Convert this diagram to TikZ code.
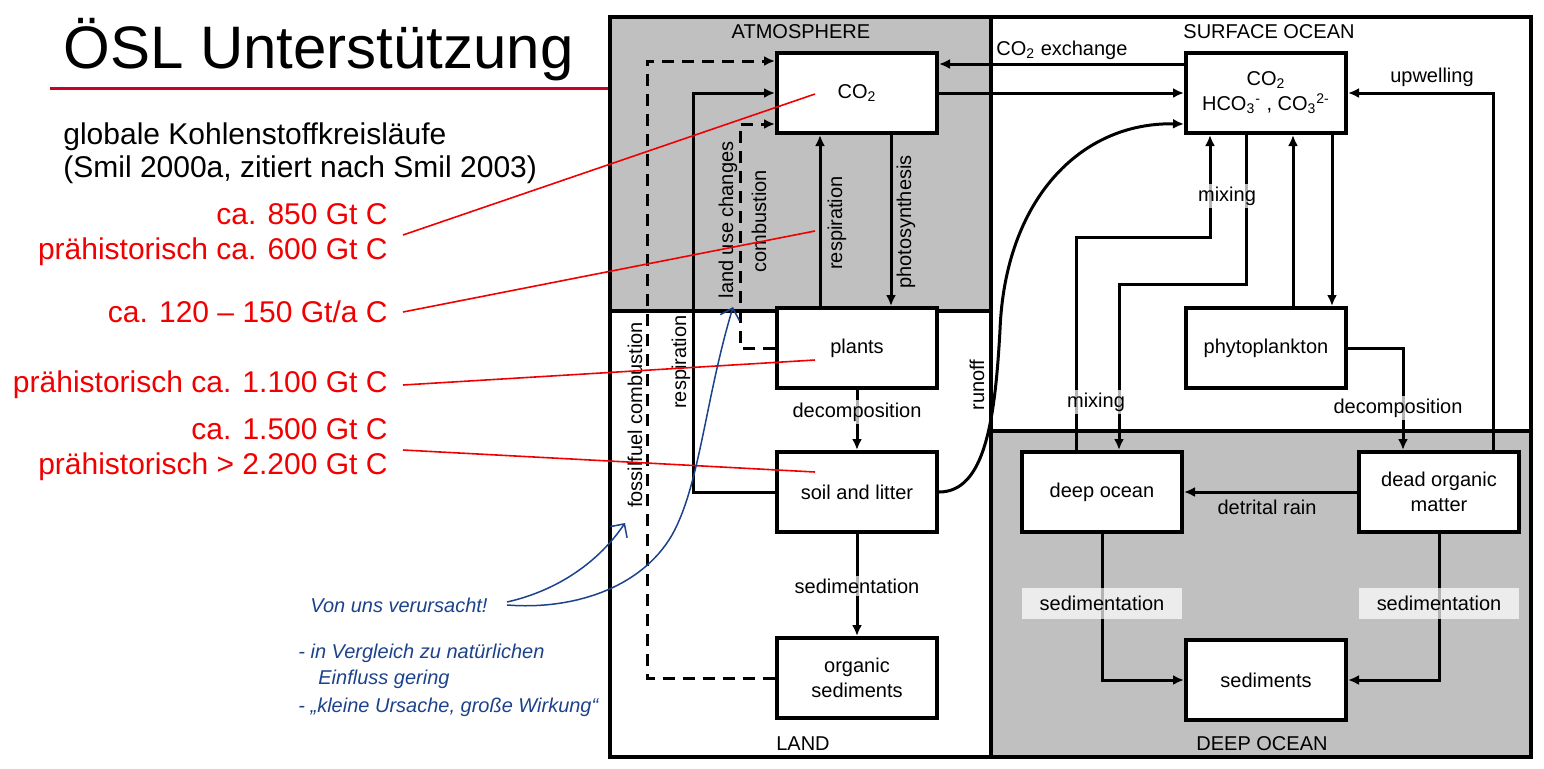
\documentclass[tikz,border=0pt]{standalone}
\usepackage{fontspec}
\setmainfont{Liberation Sans}
\usetikzlibrary{arrows.meta,calc}

\definecolor{atmgray}{RGB}{192,192,192}
\definecolor{notered}{RGB}{240,0,0}
\definecolor{titlered}{RGB}{204,0,34}
\definecolor{inkblue}{RGB}{28,66,140}

\tikzset{
    box/.style={draw,line width=2pt,fill=white,minimum width=80pt,minimum height=40pt,
        align=center,inner sep=1pt,font=\fontsize{10}{12.5}\selectfont},
    flow/.style={line width=1.5pt,-{Latex[length=5.5pt,width=5pt]}},
    dflow/.style={flow,dash pattern=on 6pt off 4pt},
    frame/.style={line width=2pt},
    lbl/.style={inner sep=1.5pt,font=\fontsize{10}{12}\selectfont},
    fade/.style={lbl,fill=white,fill opacity=0.7,text opacity=1},
    sedlbl/.style={fade,minimum width=80pt,minimum height=15.5pt},
    titletext/.style={anchor=base west,inner sep=0pt,font=\fontsize{30}{36}\selectfont},
    titlerule/.style={titlered,line width=1.5pt},
    subtitle/.style={anchor=base west,inner sep=0pt,align=left,font=\fontsize{15}{16.5}\selectfont},
    note/.style={text=notered,anchor=east,align=right,inner sep=0pt,inner xsep=7.5pt,
        font=\fontsize{15}{17.5}\selectfont},
    pointer/.style={notered,line width=0.8pt},
    ink/.style={inkblue,line width=0.75pt},
    scribble/.style={text=inkblue,anchor=west,inner sep=0pt,font=\fontsize{10}{12}\selectfont\itshape}
}

\begin{document}
\begin{tikzpicture}[x=0.5pt,y=-0.5pt]
                \useasboundingbox (0,0) rectangle (1544,768);
                %% title
                \node[titletext] (title) at (63,68) {ÖSL Unterstützung};
                \draw[titlerule] (50,88) -- (610,88);
                \node[subtitle] (sub) at (63,177) {globale Kohlenstoffkreisläufe\\(Smil 2000a, zitiert nach Smil 2003)};
                %% reservoirs
                \fill[atmgray] (610,17) rectangle (991,311);
                \fill[atmgray] (991,431) rectangle (1531,757);
                \draw[frame] (610,17) rectangle (1531,757);
                \draw[frame] (991,17) -- (991,757);
                \draw[frame] (610,311) -- (991,311);
                \draw[frame] (991,431) -- (1531,431);
                \node[lbl] (atm) at (801,32) {ATMOSPHERE};
                \node[lbl] (surf) at (1269,32) {SURFACE OCEAN};
                \node[lbl] (land) at (803,744) {LAND};
                \node[lbl] (deepl) at (1262,744) {DEEP OCEAN};
                %% pools
                \node[box] (atmco2) at (857,93) {CO\textsubscript{2}};
                \node[box] (plants) at (857,348) {plants};
                \node[box] (soil) at (857,492) {soil and litter};
                \node[box] (orgsed) at (857,678) {organic\\sediments};
                \node[box] (surfco2) at (1266,93) {CO\textsubscript{2}\\HCO\textsubscript{3}\textsuperscript{-} , CO\textsubscript{3}\textsuperscript{2-}};
                \node[box] (phyto) at (1266,348) {phytoplankton};
                \node[box] (deep) at (1102,492) {deep ocean};
                \node[box] (dom) at (1439,492) {dead organic\\matter};
                \node[box] (sed) at (1266,680) {sediments};
                %% land and atmosphere fluxes
                \draw[flow] ($(plants.north)+(-37,0)$) -- ($(atmco2.south)+(-37,0)$);
                \draw[flow] ($(atmco2.south)+(34,0)$) -- ($(plants.north)+(34,0)$);
                \draw[dflow] (plants.west) -| ($(atmco2.south west)+(-35,-11)$) -- ($(atmco2.south west)+(0,-11)$);
                \draw[flow] (soil.west) -| ($(atmco2.west)+(-82,0)$) -- (atmco2.west);
                \draw[dflow] (orgsed.west) -| ($(atmco2.north west)+(-128,10)$) -- ($(atmco2.north west)+(0,10)$);
                \draw[flow] (plants) -- (soil);
                \draw[flow] (soil) -- (orgsed);
                \draw[flow] (soil.east) .. controls (985,492) and (995,420) .. (1000,330)
                    .. controls (1005,200) and (1080,122) .. ($(surfco2.south west)+(0,-11)$);
                \node[lbl,rotate=90] (resp1) at (837,223) {respiration};
                \node[lbl,rotate=90] (photo) at (906,222) {photosynthesis};
                \node[lbl,rotate=90] (luc) at (728,220) {land use changes};
                \node[lbl,rotate=90] (comb) at (759,221) {combustion};
                \node[lbl,rotate=90] (resp2) at (681,362) {respiration};
                \node[lbl,rotate=90] (fossil) at (635,415) {fossilfuel combustion};
                \node[lbl,rotate=90] (runoff) at (977,385) {runoff};
                \node[fade] (dec1) at (857,412) {decomposition};
                \node[fade] (sed1) at (857,586) {sedimentation};
                %% ocean fluxes
                \draw[flow] ($(surfco2.north west)+(0,13)$) -- ($(atmco2.north east)+(0,13)$);
                \draw[flow] (atmco2.east) -- (surfco2.west);
                \node[lbl,anchor=west] (exch) at (993,50) {CO\textsubscript{2} exchange};
                \draw[flow] ($(dom.north)+(54,0)$) |- (surfco2.east);
                \node[lbl] (upw) at (1432,77) {upwelling};
                \draw[flow] ($(deep.north)+(-26,0)$) -- ++(0,-213) -| ($(surfco2.south)+(-56,0)$);
                \draw[flow] ($(surfco2.south)+(-20,0)$) -- ++(0,149) -| ($(deep.north)+(17,0)$);
                \draw[flow] ($(phyto.north)+(27,0)$) -- ($(surfco2.south)+(27,0)$);
                \draw[flow] ($(surfco2.south)+(66,0)$) -- ($(phyto.north)+(66,0)$);
                \draw[flow] (phyto.east) -| ($(dom.north)+(-36,0)$);
                \draw[flow] (dom.west) -- (deep.east);
                \draw[flow] (deep.south) |- (sed.west);
                \draw[flow] (dom.south) |- (sed.east);
                \node[fade] (mix1) at (1227,196) {mixing};
                \node[fade] (mix2) at (1096,402) {mixing};
                \node[fade] (dec2) at (1398,408) {decomposition};
                \node[lbl] (rain) at (1267,507) {detrital rain};
                \node[sedlbl] (sed2) at (1102,603) {sedimentation};
                \node[sedlbl] (sed3) at (1439,603) {sedimentation};
                %% red notes
                \node[note] (n1) at (403,235) {ca. 850 Gt C\\prähistorisch ca. 600 Gt C};
                \node[note] (n2) at (403,312) {ca. 120 – 150 Gt/a C};
                \node[note] (n3) at (403,385) {prähistorisch ca. 1.100 Gt C};
                \node[note] (n4) at (403,450) {ca. 1.500 Gt C\\prähistorisch > 2.200 Gt C};
                \coordinate (respmid) at (815,231);
                \draw[pointer] (n1.east) -- ($(atmco2.center)+(-42,1)$);
                \draw[pointer] (n2.east) -- (respmid);
                \draw[pointer] (n3.east) -- ($(plants.center)+(-42,12)$);
                \draw[pointer] (n4.east) -- ($(soil.center)+(-42,-20)$);
                %% handwritten remarks
                \node[scribble] (h1) at (310,605) {Von uns verursacht!};
                \node[scribble] (h2) at (298,653) {- in Vergleich zu natürlichen};
                \node[scribble] (h3) at (318,679) {Einfluss gering};
                \node[scribble] (h4) at (298,707) {- „kleine Ursache, große Wirkung“};
                \coordinate (fossilpt) at (625,523);
                \coordinate (lucpt) at (733,307);
                \draw[ink,-{Straight Barb[length=5pt]}] (507,602) .. controls (560,590) and (600,560) .. (fossilpt);
                \draw[ink,-{Straight Barb[length=5pt]}] (507,605) .. controls (570,610) and (640,590) .. (672,535)
                    .. controls (700,485) and (705,400) .. (lucpt);
            \end{tikzpicture}
\end{document}
